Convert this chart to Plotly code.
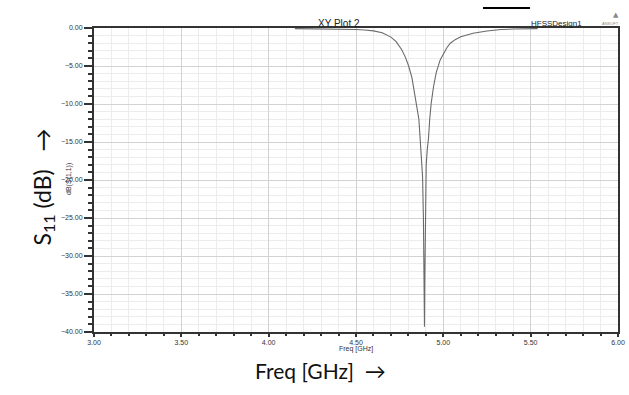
import plotly.graph_objects as go

freq_ghz = [4.15, 4.25, 4.35, 4.45, 4.50, 4.55, 4.60, 4.65, 4.70, 4.73, 4.76, 4.78,
            4.80, 4.82, 4.84, 4.85, 4.86, 4.867, 4.875, 4.881, 4.886, 4.890, 4.892,
            4.894, 4.897, 4.902, 4.908, 4.915, 4.922, 4.93, 4.944, 4.96, 4.982, 5.00,
            5.02, 5.04, 5.07, 5.10, 5.17, 5.25, 5.33, 5.40, 5.47, 5.54]
s11_db = [-0.08, -0.10, -0.13, -0.17, -0.20, -0.27, -0.38, -0.62, -1.2, -1.8, -2.8, -3.7,
          -4.9, -6.5, -9.0, -10.5, -12.0, -14.5, -17.0, -19.5, -25.0, -34.0, -39.3,
          -33.0, -22.0, -18.0, -16.0, -14.5, -12.0, -10.0, -7.7, -5.8, -4.2, -3.4,
          -2.6, -2.0, -1.5, -1.15, -0.7, -0.4, -0.2, -0.14, -0.10, -0.08]

x_ticks = [3.0, 3.5, 4.0, 4.5, 5.0, 5.5, 6.0]
y_ticks = [0, -5, -10, -15, -20, -25, -30, -35, -40]

narrow = "Liberation Sans Narrow, Arial Narrow, Liberation Sans, sans-serif"
big = "Lato, Noto Sans, sans-serif"

fig = go.Figure()
fig.add_trace(go.Scatter(x=freq_ghz, y=s11_db, mode="lines",
                         line=dict(color="#6a6a6a", width=1.1), showlegend=False))

axis_common = dict(showline=True, linecolor="#333333", linewidth=2, mirror=True,
                   showgrid=True, gridcolor="#d2d2d2", gridwidth=1,
                   ticks="outside", tickcolor="#333333", tickwidth=1.5,
                   tickfont=dict(family=narrow, size=7, color="#333333"),
                   zeroline=False, tickformat=".2f", automargin=False)

fig.update_xaxes(range=[3, 6], tickvals=x_ticks, ticklen=3,
                 minor=dict(dtick=0.1, showgrid=True, gridcolor="#ececec",
                            ticks="outside", ticklen=2, tickcolor="#333333"),
                 **axis_common)
fig.update_yaxes(range=[-40, 0], tickvals=y_ticks, ticklen=8,
                 minor=dict(dtick=1, showgrid=True, gridcolor="#ececec",
                            ticks="outside", ticklen=4, tickcolor="#333333"),
                 **axis_common)

fig.update_layout(
    width=629, height=395,
    margin=dict(l=94, r=11, t=28, b=63, autoexpand=False),
    paper_bgcolor="white", plot_bgcolor="white",
    shapes=[dict(type="line", xref="paper", yref="paper",
                 x0=(483 - 94) / 524, x1=(530 - 94) / 524,
                 y0=(332 - 8) / 304, y1=(332 - 8) / 304,
                 line=dict(color="black", width=2))],
    annotations=[
        dict(text="XY Plot 2", xref="paper", yref="paper",
             x=(339 - 94) / 524, y=(332 - 16) / 304, showarrow=False,
             font=dict(family=narrow, size=10, color="#222222")),
        dict(text="HFSSDesign1", xref="paper", yref="paper",
             x=(584 - 94) / 524, y=(332 - 17) / 304, showarrow=False,
             font=dict(family=narrow, size=8, color="#222222")),
        dict(text="▲", xref="paper", yref="paper",
             x=(621 - 94) / 524, y=(332 - 9) / 304, showarrow=False,
             font=dict(family="DejaVu Sans", size=7, color="#888888")),
        dict(text="ANSOFT", xref="paper", yref="paper",
             x=(621 - 94) / 524, y=(332 - 19) / 304, showarrow=False,
             font=dict(family=narrow, size=4, color="#888888")),
        dict(text="Freq [GHz]", xref="paper", yref="paper",
             x=0.5, y=(332 - 355) / 304, showarrow=False,
             font=dict(family=narrow, size=7, color="#333333")),
        dict(text="dB(S(1,1))", xref="paper", yref="paper", textangle=-90,
             x=(63 - 94) / 524, y=(332 - 179) / 304, showarrow=False,
             font=dict(family=narrow, size=7, color="#333333")),
        dict(text="Freq [GHz]  →", xref="paper", yref="paper",
             x=(320 - 94) / 524, y=(332 - 385) / 304, showarrow=False,
             font=dict(family=big, size=21, color="#111111")),
        dict(text="S<sub>11</sub> (dB)   →", xref="paper", yref="paper", textangle=-90,
             x=(25 - 94) / 524, y=(332 - 187) / 304, showarrow=False,
             font=dict(family=big, size=23, color="#111111")),
    ],
)

fig.write_html("out.html")
